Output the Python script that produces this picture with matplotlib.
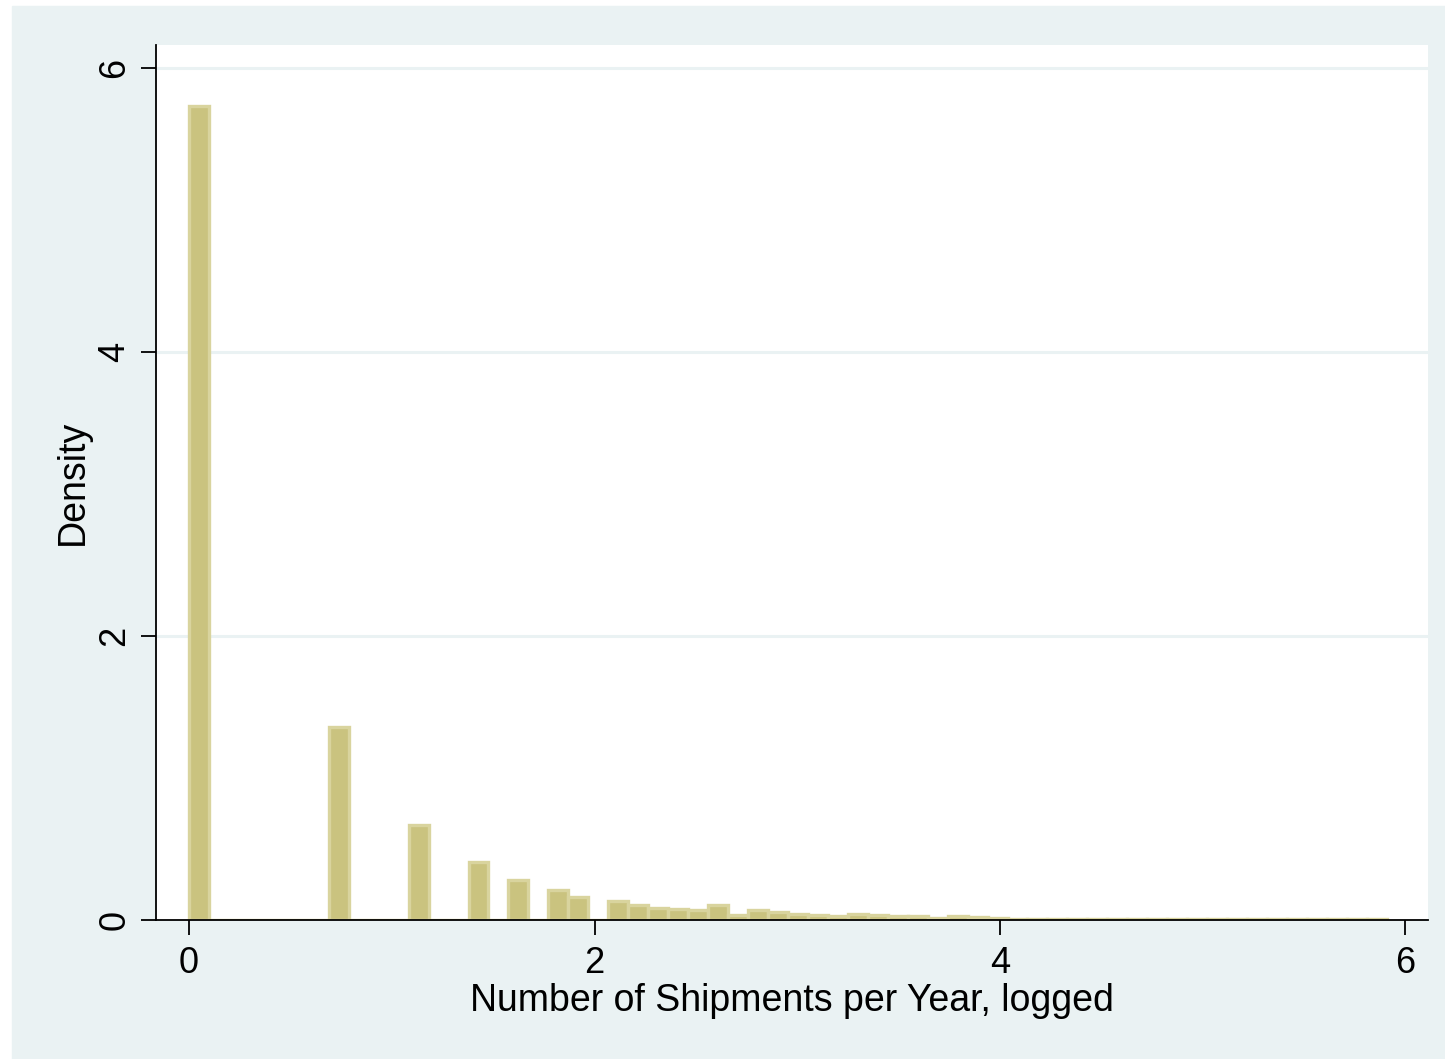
import numpy as np
import matplotlib
matplotlib.use("Agg")
import matplotlib.pyplot as plt
import matplotlib.patches as mpatches

plt.rcParams['font.family'] = ['Liberation Sans', 'DejaVu Sans']

# histogram of log(shipments per year): 60 bins from 0 to ln(368)
x_max = 5.908
n_bins = 60
density = [
    5.73, 0, 0, 0, 0, 0, 0, 1.36, 0, 0,
    0, 0.67, 0, 0, 0.41, 0, 0.283, 0, 0.208, 0.161,
    0, 0.131, 0.105, 0.088, 0.074, 0.067, 0.105, 0.037, 0.067, 0.053,
    0.044, 0.037, 0.025, 0.039, 0.032, 0.025, 0.025, 0.012, 0.025, 0.018,
    0.012, 0.010, 0.009, 0.009, 0.008, 0.007, 0.007, 0.006, 0.006, 0.006,
    0.005, 0.005, 0.005, 0.005, 0.005, 0.005, 0.005, 0.005, 0.005, 0.005,
]
x_ticks = [0, 2, 4, 6]
y_ticks = [0, 2, 4, 6]
x_label = "Number of Shipments per Year, logged"
y_label = "Density"

bg = '#EAF2F3'
fill = '#CAC37F'
edge = '#D9D49E'

fig = plt.figure(figsize=(14.45, 10.59), dpi=100, facecolor='white')
# light graph region, with thin white strip left and top like the original
fig.patches.append(mpatches.Rectangle((12 / 1445, 0), 1, 1 - 6 / 1059,
                                      transform=fig.transFigure, color=bg, zorder=-10))

ax = fig.add_axes([156 / 1445, 139 / 1059, 1272 / 1445, 875 / 1059])
ax.set_facecolor('white')

edges = np.linspace(0, x_max, n_bins + 1)
width = edges[1] - edges[0]
ax.bar(edges[:-1], density, width=width, align='edge',
       color=fill, edgecolor=edge, linewidth=2.4, zorder=3)

ax.set_xlim(-0.1628, 6.111)
ax.set_ylim(0, 6.162)
ax.set_xticks(x_ticks)
ax.set_yticks(y_ticks)
for yv in y_ticks[1:]:
    ax.axhline(yv, color=bg, linewidth=2.2, zorder=1)

for s in ['top', 'right']:
    ax.spines[s].set_visible(False)
for s in ['left', 'bottom']:
    ax.spines[s].set_linewidth(1.3)
    ax.spines[s].set_zorder(4)

ax.tick_params(axis='both', direction='out', length=11, width=1.3,
               labelsize=26, pad=8)
ax.tick_params(axis='y', pad=6)
plt.setp(ax.get_yticklabels(), rotation=90, va='center')
ax.set_xlabel(x_label, fontsize=27, labelpad=1)
ax.set_ylabel(y_label, fontsize=27, labelpad=5)

fig.savefig('out.png', dpi=100, facecolor=fig.get_facecolor())
